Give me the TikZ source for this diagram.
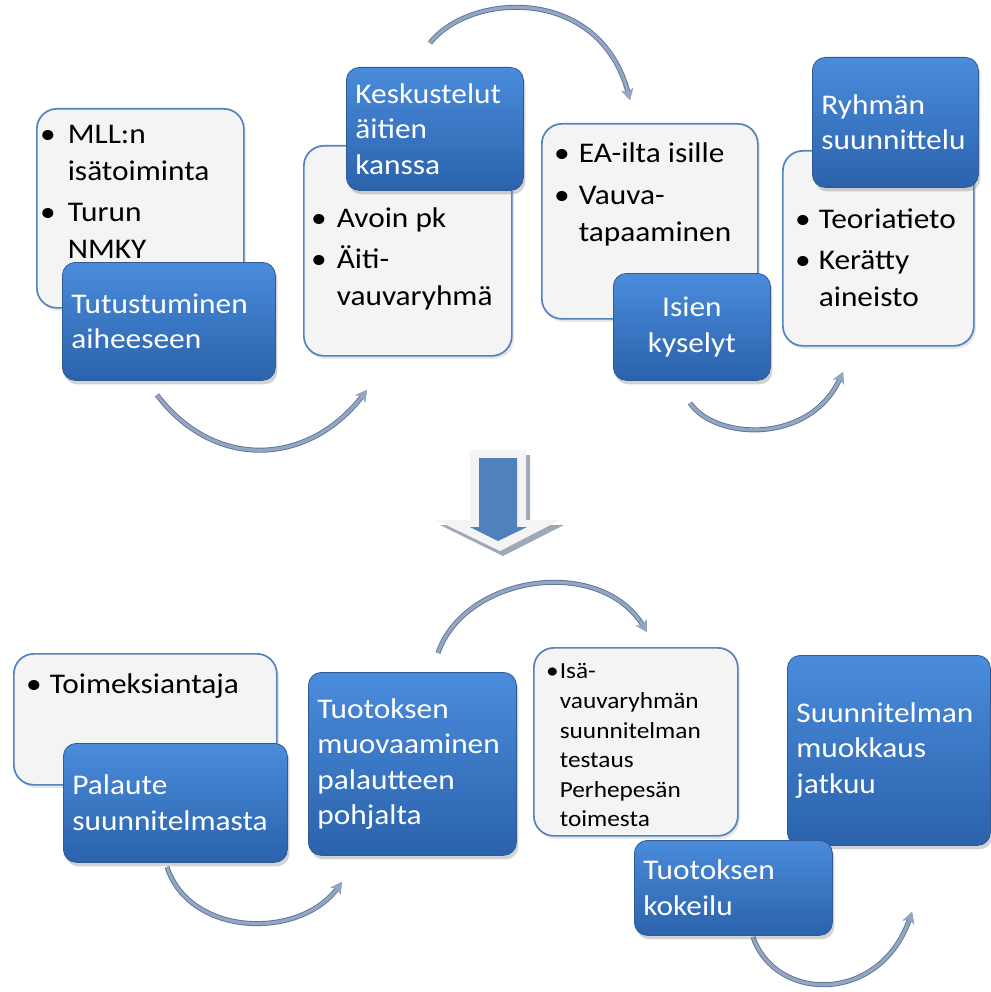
\documentclass[tikz,border=0pt]{standalone}
\usepackage{fontspec}
\setmainfont{Carlito}[FakeStretch=1.1]
\usepackage{tikz}
\usetikzlibrary{arrows.meta}
\usetikzlibrary{shadows}
\definecolor{sinivalo}{HTML}{4A8CDB}
\definecolor{sinitumma}{HTML}{2B62AC}
\definecolor{sinireuna}{HTML}{2E5B95}
\definecolor{harmaa}{HTML}{F4F4F4}
\definecolor{reuna}{HTML}{5483BE}
\definecolor{kaarisini}{HTML}{93A7C4}
\definecolor{kaarireuna}{HTML}{5E7395}
\definecolor{nuolisini}{HTML}{4F81BD}
\definecolor{nuolivarjo}{HTML}{9EA8B6}
\tikzset{
    vaalea/.style = {draw=reuna, line width=1.7pt, fill=harmaa, rounded corners=20pt,
        anchor=north west, inner sep=0pt,
        drop shadow={shadow xshift=2pt, shadow yshift=-3pt, opacity=.2}},
    sininen/.style = {draw=sinireuna, line width=.8pt, top color=sinivalo, bottom color=sinitumma,
        rounded corners=13pt, anchor=north west, inner xsep=9pt, inner ysep=0pt,
        text=white, align=left, font=\fontsize{28.5}{35.5}\selectfont,
        drop shadow={shadow xshift=2pt, shadow yshift=-4pt, opacity=.35}},
    lista/.style = {anchor=north west, inner sep=0pt, font=\fontsize{28.5}{37}\selectfont},
    kaari/.style = {line width=3.2pt, draw=kaarisini, -{Stealth[length=11pt, width=12pt]},
        preaction={draw=kaarireuna, line width=5pt}},
    >=Stealth
}

\begin{document}
\begin{tikzpicture}[x=1pt, y=-1pt]
    \useasboundingbox (0,0) rectangle (990,992);
    % kaaret
    \coordinate (k1a) at (157,395);
    \coordinate (k1b) at (367,390);
    \coordinate (k2a) at (430,43);
    \coordinate (k2b) at (630,100);
    \coordinate (k3a) at (690,403);
    \coordinate (k3b) at (843,372);
    \coordinate (k4a) at (167,867);
    \coordinate (k4b) at (342,882);
    \coordinate (k5a) at (438,653);
    \coordinate (k5b) at (647,632);
    \coordinate (k6a) at (753,937);
    \coordinate (k6b) at (912,912);
    \draw[kaari] (k1a) .. controls (215,471) and (309,466) .. (k1b);
    \draw[kaari] (k2a) .. controls (470,-8) and (600,-15) .. (k2b);
    \draw[kaari] (k3a) .. controls (715,440) and (810,445) .. (k3b);
    \draw[kaari] (k4a) .. controls (190,937) and (300,940) .. (k4b);
    \draw[kaari] (k5a) .. controls (465,575) and (600,555) .. (k5b);
    \draw[kaari] (k6a) .. controls (775,1002) and (880,1005) .. (k6b);

    % ylarivi
    \node[vaalea, minimum width=207pt, minimum height=199pt] (v1) at (36,108) {};
    \node[lista] (l1) at (40,117) {\begin{tabular}{@{}l@{\hspace{12pt}}l@{}}
        \textbullet & MLL:n\\ & isätoiminta\\[4pt]
        \textbullet & Turun\\ & NMKY\end{tabular}};
    \node[sininen, minimum width=213pt, minimum height=118pt, text width=195pt] (b1) at (62,262)
        {Tutustuminen\\aiheeseen};

    \node[vaalea, minimum width=208pt, minimum height=210pt] (v2) at (303,145) {};
    \node[lista] (l2) at (311,201) {\begin{tabular}{@{}l@{\hspace{10pt}}l@{}}
        \textbullet & Avoin pk\\[4pt]
        \textbullet & Äiti-\\ & vauvaryhmä\end{tabular}};
    \node[sininen, minimum width=177pt, minimum height=123pt, text width=159pt] (b2) at (346,67)
        {Keskustelut\\äitien\\kanssa};

    \node[vaalea, minimum width=216pt, minimum height=195pt] (v3) at (541,123) {};
    \node[lista] (l3) at (554,136) {\begin{tabular}{@{}l@{\hspace{9pt}}l@{}}
        \textbullet & EA-ilta isille\\[5pt]
        \textbullet & Vauva-\\ & tapaaminen\end{tabular}};
    \node[sininen, align=center, minimum width=157pt, minimum height=107pt, text width=139pt] (b3) at (613,273)
        {Isien\\kyselyt};

    \node[vaalea, minimum width=191pt, minimum height=195pt] (v4) at (782,150) {};
    \node[lista] (l4) at (795,202) {\begin{tabular}{@{}l@{\hspace{8pt}}l@{}}
        \textbullet & Teoriatieto\\[4pt]
        \textbullet & Kerätty\\ & aineisto\end{tabular}};
    \node[sininen, minimum width=166pt, minimum height=130pt, text width=148pt] (b4) at (812,57)
        {Ryhmän\\suunnittelu};

    % iso nuoli
    \fill[nuolivarjo] (474,455) -- (530,455) -- (530,525) -- (564,525) -- (503,556) -- (440,525) -- (474,525) -- cycle;
    \fill[harmaa] (470,450) -- (526,450) -- (526,520) -- (560,520) -- (500,551) -- (436,520) -- (470,520) -- cycle;
    \fill[nuolisini] (479,458) -- (517,458) -- (517,527) -- (527,527) -- (498,541) -- (470,527) -- (479,527) -- cycle;

    % alarivi
    \node[vaalea, minimum width=263pt, minimum height=131pt] (v5) at (13,653) {};
    \node[lista] (l5) at (26,667) {\begin{tabular}{@{}l@{\hspace{8pt}}l@{}}
        \textbullet & Toimeksiantaja\end{tabular}};
    \node[sininen, minimum width=224pt, minimum height=119pt, text width=206pt] (b5) at (63,743)
        {Palaute\\suunnitelmasta};

    \node[sininen, minimum width=208pt, minimum height=183pt, text width=190pt] (b6) at (308,672)
        {Tuotoksen\\muovaaminen\\palautteen\\pohjalta};

    \node[vaalea, minimum width=204pt, minimum height=188pt] (v7) at (533,647) {};
    \node[lista, font=\fontsize{23}{29.6}\selectfont] (l7) at (546,658) {\begin{tabular}{@{}l@{\hspace{1pt}}l@{}}
        \textbullet & Isä-\\ & vauvaryhmän\\ & suunnitelman\\ & testaus\\
        & Perhepesän\\ & toimesta\end{tabular}};

    \node[sininen, minimum width=203pt, minimum height=190pt, text width=185pt] (b8) at (787,655)
        {Suunnitelman\\muokkaus\\jatkuu};
    \node[sininen, minimum width=198pt, minimum height=95pt, text width=180pt] (b7) at (634,840)
        {Tuotoksen\\kokeilu};
\end{tikzpicture}
\end{document}
